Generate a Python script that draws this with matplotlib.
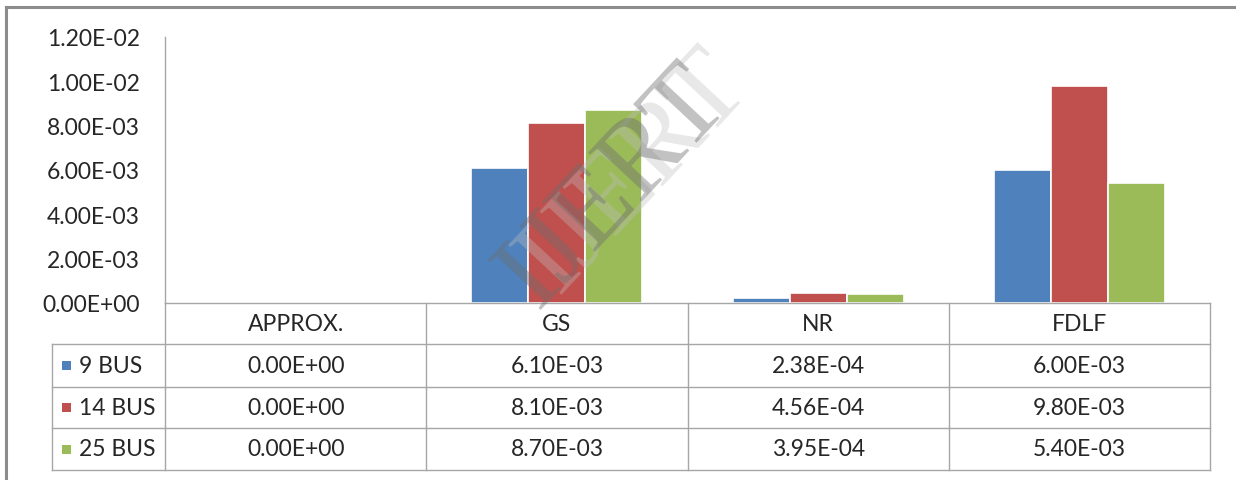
import matplotlib
matplotlib.use("Agg")
import matplotlib.pyplot as plt
from matplotlib.lines import Line2D
from matplotlib.patches import Rectangle
import matplotlib.patheffects as pe

# Data
categories = ["APPROX.", "GS", "NR", "FDLF"]
series_names = ["9 BUS", "14 BUS", "25 BUS"]
bus9 = [0.0, 6.10e-3, 2.38e-4, 6.00e-3]
bus14 = [0.0, 8.10e-3, 4.56e-4, 9.80e-3]
bus25 = [0.0, 8.70e-3, 3.95e-4, 5.40e-3]
series_values = [bus9, bus14, bus25]
colors = ["#4F81BD", "#C0504D", "#9BBB59"]
yticks = [0.0, 2e-3, 4e-3, 6e-3, 8e-3, 1e-2, 1.2e-2]

plt.rcParams["font.family"] = ["Lato", "DejaVu Sans"]
FS = 16.5
TXT = "#262626"
GRID = "#A6A6A6"

W, H = 1236, 481
fig = plt.figure(figsize=(W / 100, H / 100), dpi=100)


def fx(px):
    return px / W


def fy(py):
    return 1 - py / H


# Plot area geometry (pixels, origin top-left)
ax_l, ax_r, ax_t, ax_b = 165, 1210, 38, 304
ax = fig.add_axes([fx(ax_l), fy(ax_b), fx(ax_r - ax_l), (ax_b - ax_t) / H])
ax.set_xlim(-0.5, len(categories) - 0.5)
ax.set_ylim(0, 0.012)

bw = 0.218
for i, (vals, col) in enumerate(zip(series_values, colors)):
    xs = [k + (i - 1) * bw for k in range(len(categories))]
    ax.bar(xs, vals, width=bw, color=col, edgecolor="white", linewidth=1.2,
           zorder=3)

for s in ["top", "right", "bottom"]:
    ax.spines[s].set_visible(False)
ax.spines["left"].set_color(GRID)
ax.spines["left"].set_linewidth(1.0)
ax.set_yticks(yticks)
ax.set_yticklabels([f"{v:.2E}" for v in yticks], fontsize=FS, color=TXT)
ax.tick_params(axis="y", length=0, pad=18)
ax.set_xticks([])
ax.axhline(0, color=GRID, lw=1.0, zorder=4, clip_on=False)

# Data table under the plot
rows_y = [304, 345, 388, 429, 471]
col_x = [ax_l + k * (ax_r - ax_l) / len(categories) for k in range(len(categories) + 1)]
leg_l = 52


def hline(y, x0, x1):
    fig.add_artist(Line2D([fx(x0), fx(x1)], [fy(y), fy(y)], color=GRID, lw=1.0))


def vline(x, y0, y1):
    fig.add_artist(Line2D([fx(x), fx(x)], [fy(y0), fy(y1)], color=GRID, lw=1.0))


for y in rows_y[1:]:
    hline(y, leg_l, ax_r)
for x in col_x:
    vline(x, rows_y[0], rows_y[-1])
vline(leg_l, rows_y[1], rows_y[-1])

# Header labels
hy = (rows_y[0] + rows_y[1]) / 2
for k, c in enumerate(categories):
    cx = (col_x[k] + col_x[k + 1]) / 2
    fig.text(fx(cx), fy(hy), c, ha="center", va="center", fontsize=FS, color=TXT)

# Body rows with legend keys
for r, (name, vals, col) in enumerate(zip(series_names, series_values, colors)):
    cy = (rows_y[r + 1] + rows_y[r + 2]) / 2
    fig.add_artist(Rectangle((fx(62), fy(cy + 4.5)), fx(9), 9 / H,
                             facecolor=col, edgecolor="none"))
    fig.text(fx(79), fy(cy), name, ha="left", va="center", fontsize=FS, color=TXT)
    for k, v in enumerate(vals):
        cx = (col_x[k] + col_x[k + 1]) / 2
        fig.text(fx(cx), fy(cy), f"{v:.2E}", ha="center", va="center",
                 fontsize=FS, color=TXT)

# Outer chart frame
fig.add_artist(Line2D([fx(6), 1], [fy(8), fy(8)], color="#8C8C8C", lw=2.2))
fig.add_artist(Line2D([fx(6), fx(6)], [fy(8), 0], color="#8C8C8C", lw=2.2))

# Watermark with a soft offset shadow
fig.text(fx(615), fy(192), "IJERT", rotation=47, ha="center", va="center",
         fontsize=80, family="Liberation Serif", color="#6E6E6E", alpha=0.42,
         zorder=10,
         path_effects=[pe.SimplePatchShadow(offset=(15, 11),
                                            shadow_rgbFace="#BFBFBF", alpha=0.35),
                       pe.Normal()])

fig.savefig("out.png", dpi=100)
